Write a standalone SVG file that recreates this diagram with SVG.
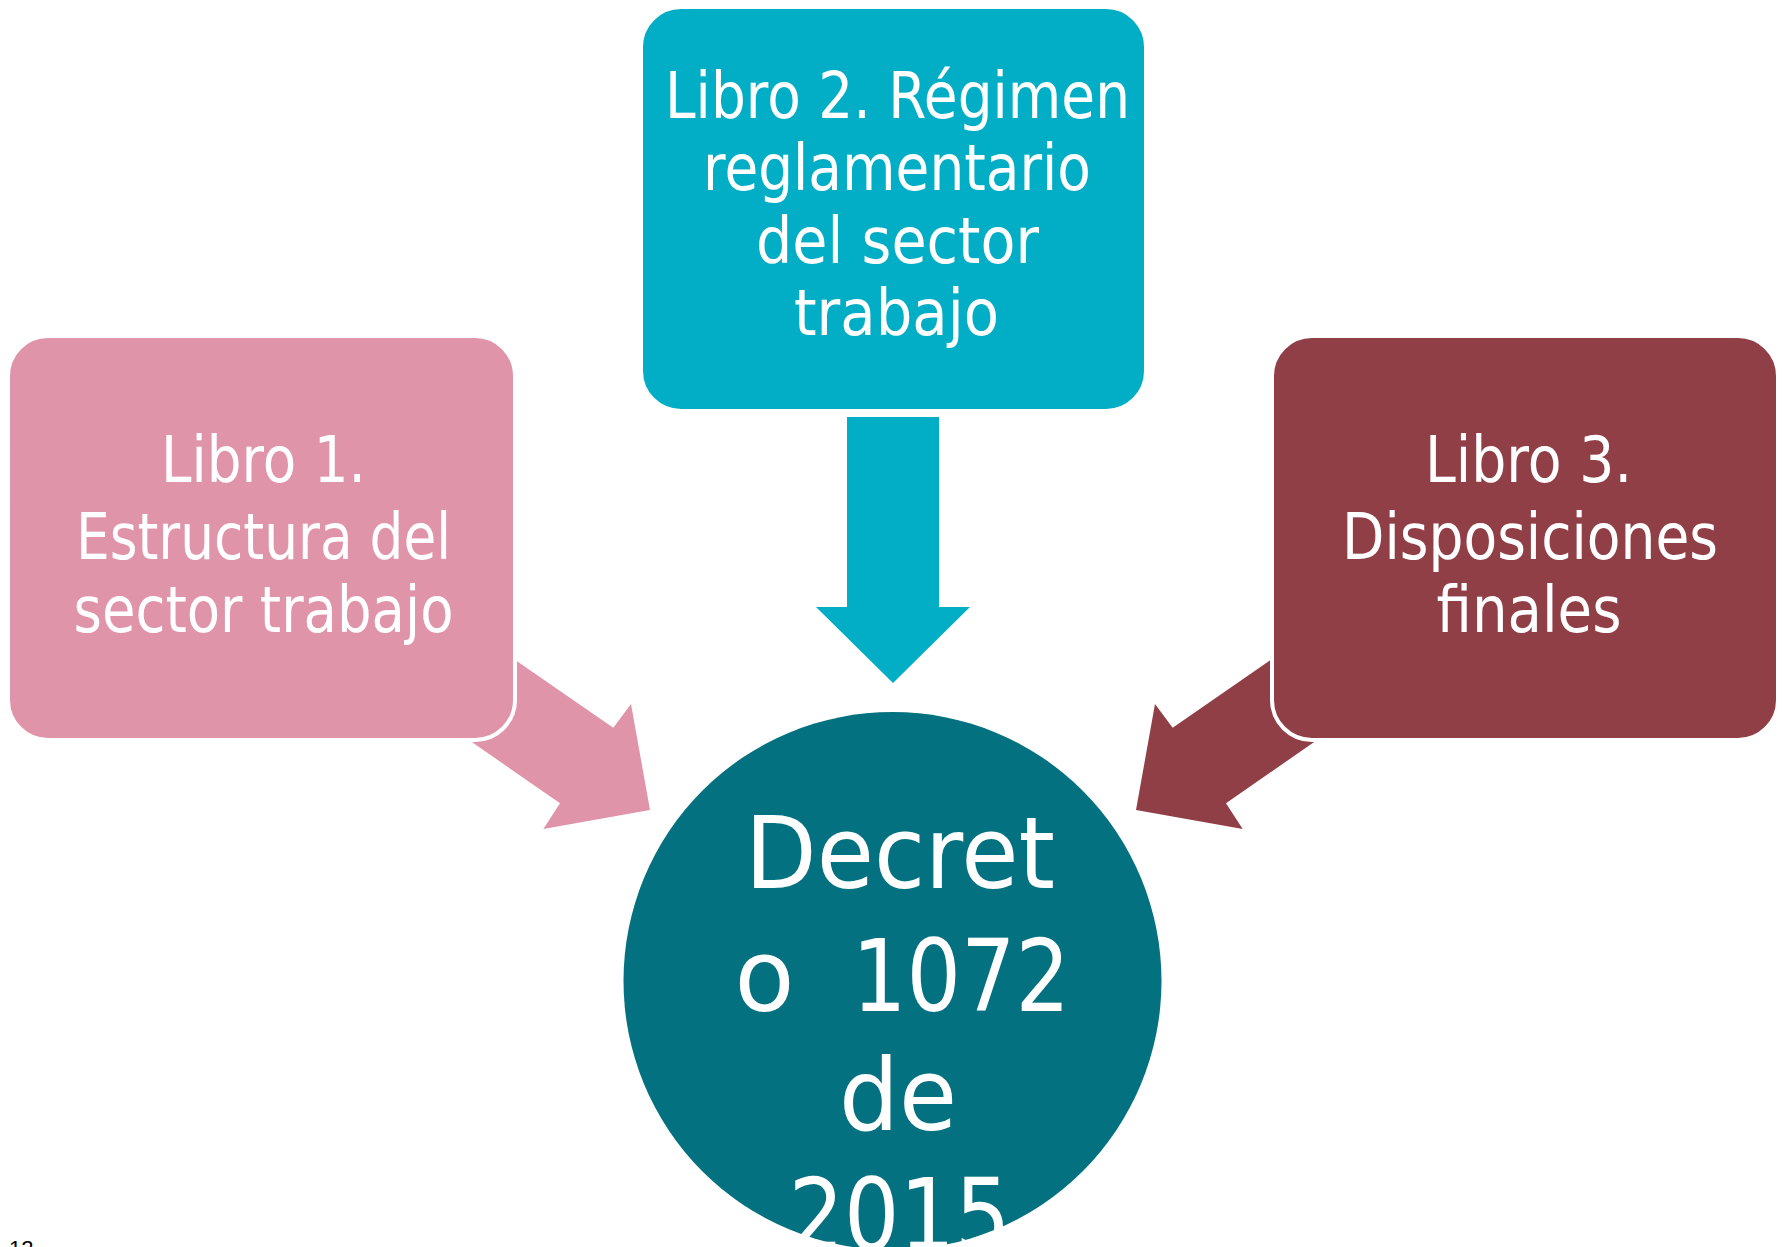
<svg xmlns="http://www.w3.org/2000/svg" width="1785" height="1247" viewBox="0 0 1785 1247">
<style>
.lbl{font-family:"DejaVu Sans","Liberation Sans",sans-serif;fill:#ffffff;text-anchor:middle}
.box{font-size:64px}
.big{font-size:100px}
.box-shape{stroke:#ffffff;stroke-width:4}
</style>
<rect width="1785" height="1247" fill="#ffffff"/>
<g id="connectors">
<polygon id="arrow-1" fill="#E094A9" points="440,608 613.3,727.7 631,704 650,810 543.3,829 560,803.3 420,706"/>
<polygon id="arrow-2" fill="#02AEC6" points="847,417 939,417 939,607 970,607 893,683 816,607 847,607"/>
<polygon id="arrow-3" fill="#913F47" points="1346,608 1172.7,727.7 1155,704 1136,810 1242.7,829 1226,803.3 1366,706"/>
</g>
<g id="node-libro1">
<rect class="box-shape" x="8" y="336" width="507" height="404" rx="40" ry="40" fill="#E094A9"/>
<text class="lbl box" x="263.5" y="481.5" textLength="205" lengthAdjust="spacingAndGlyphs">Libro 1.</text>
<text class="lbl box" x="263.5" y="559" textLength="375" lengthAdjust="spacingAndGlyphs">Estructura del</text>
<text class="lbl box" x="263.5" y="632" textLength="380" lengthAdjust="spacingAndGlyphs">sector trabajo</text>
</g>
<g id="node-libro2">
<rect class="box-shape" x="641" y="7" width="505" height="404" rx="40" ry="40" fill="#02AEC6"/>
<text class="lbl box" x="897.5" y="118" textLength="465" lengthAdjust="spacingAndGlyphs">Libro 2. Régimen</text>
<text class="lbl box" x="897" y="190" textLength="388" lengthAdjust="spacingAndGlyphs">reglamentario</text>
<text class="lbl box" x="897.5" y="263" textLength="283" lengthAdjust="spacingAndGlyphs">del sector</text>
<text class="lbl box" x="896.5" y="335" textLength="205" lengthAdjust="spacingAndGlyphs">trabajo</text>
</g>
<g id="node-libro3">
<rect class="box-shape" x="1272" y="336" width="506" height="404" rx="40" ry="40" fill="#913F47"/>
<text class="lbl box" x="1528.5" y="481.5" textLength="207" lengthAdjust="spacingAndGlyphs">Libro 3.</text>
<text class="lbl box" x="1530" y="559" textLength="376" lengthAdjust="spacingAndGlyphs">Disposiciones</text>
<text class="lbl box" x="1529" y="632" textLength="185" lengthAdjust="spacingAndGlyphs">finales</text>
</g>
<g id="node-decreto">
<circle cx="892.5" cy="981" r="269" fill="#03717F"/>
<text class="lbl big" x="900" y="888" textLength="310" lengthAdjust="spacingAndGlyphs">Decret</text>
<text class="lbl big" y="1011"><tspan x="764.5" textLength="60" lengthAdjust="spacingAndGlyphs">o</tspan><tspan x="961" textLength="218" lengthAdjust="spacingAndGlyphs">1072</tspan></text>
<text class="lbl big" x="898" y="1130" textLength="118" lengthAdjust="spacingAndGlyphs">de</text>
<text class="lbl big" x="899.5" y="1250" textLength="222" lengthAdjust="spacingAndGlyphs">2015</text>
</g>
<text id="page-number" x="9" y="1256" font-family="Liberation Sans, Arial, sans-serif" font-size="22" fill="#000000">12</text>
</svg>
